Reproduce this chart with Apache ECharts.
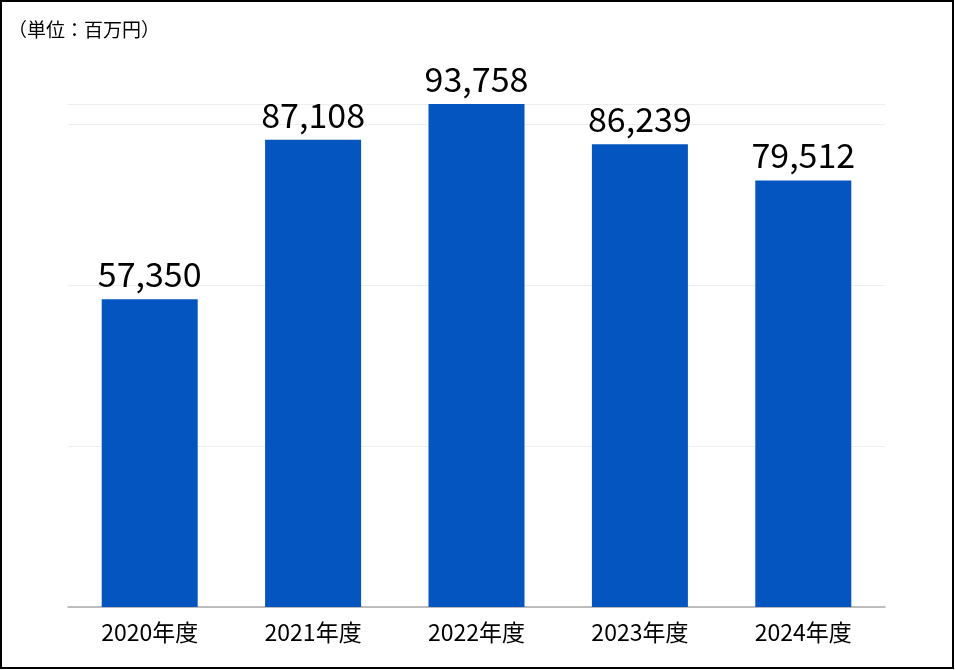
<!DOCTYPE html>
<html><head><meta charset="utf-8">
<script src="https://cdn.jsdelivr.net/npm/echarts@6/dist/echarts.min.js"></script>
<style>html,body{margin:0;padding:0;background:#fff}#c{width:955px;height:670px}</style>
</head><body><div id="c"></div>
<script>
const categories = ['2020年度','2021年度','2022年度','2023年度','2024年度'];
const values = [57350, 87108, 93758, 86239, 79512];
const unitLabel = '（単位：百万円）';
const font = '"Noto Sans CJK JP", "Noto Sans", sans-serif';
const chart = echarts.init(document.getElementById('c'));
chart.setOption({
  animation:false,
  graphic:[
    {type:'rect',shape:{x:1,y:1,width:952,height:667},style:{fill:'none',stroke:'#000',lineWidth:2}},
    {type:'text',left:8,top:20,style:{text:unitLabel,font:'19px '+font,fill:'#000'}}
  ],
  grid:{left:68,right:70,top:104,bottom:63},
  xAxis:{type:'category',data:categories,axisLine:{lineStyle:{color:'#aaa',width:1.5}},axisTick:{show:false},
    axisLabel:{color:'#000',fontSize:23,fontFamily:font,margin:14}},
  yAxis:{type:'value',min:0,max:'dataMax',interval:30000,axisLabel:{show:false},axisLine:{show:false},axisTick:{show:false},
    splitLine:{lineStyle:{color:'#eee'}}},
  series:[{type:'bar',data:values,barWidth:96,itemStyle:{color:'#0555C0'},
    label:{show:true,position:'top',distance:8,color:'#000',fontSize:34,fontFamily:font,
      formatter:p=>p.value.toLocaleString('en-US')}}]
});
</script></body></html>
